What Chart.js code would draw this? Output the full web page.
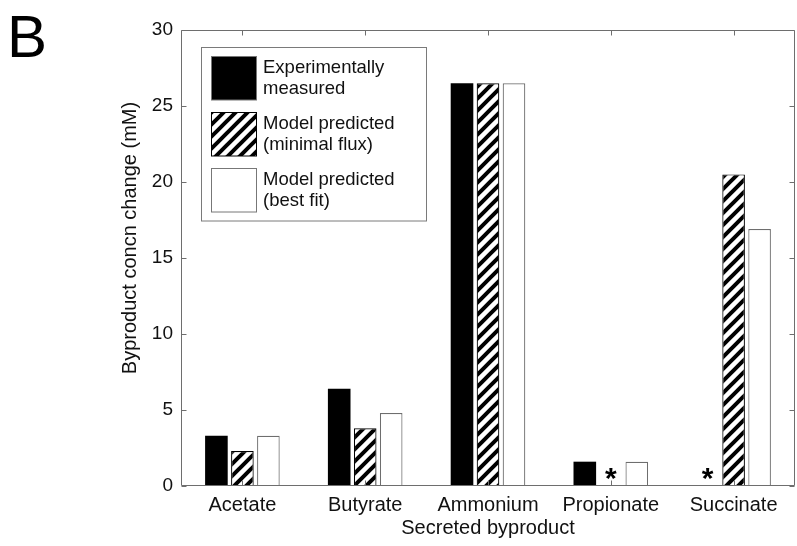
<!DOCTYPE html>
<html><head><meta charset="utf-8">
<script src="https://cdn.jsdelivr.net/npm/chart.js@4"></script>
<style>html,body{margin:0;padding:0;background:#fff;overflow:hidden}canvas{display:block}</style>
</head><body>
<canvas id="c" width="797" height="546"></canvas>
<script>
const categories = ['Acetate', 'Butyrate', 'Ammonium', 'Propionate', 'Succinate'];
const measured = [3.3, 6.4, 26.5, 1.6, 0];
const minimalFlux = [2.3, 3.8, 26.5, 0, 20.5];
const bestFit = [3.3, 4.8, 26.5, 1.6, 16.9];
const seriesLabels = [['Experimentally', 'measured'], ['Model predicted', '(minimal flux)'], ['Model predicted', '(best fit)']];
const yTicks = [0, 5, 10, 15, 20, 25, 30];
const panelLabel = 'B';
const xTitle = 'Secreted byproduct';
const yTitle = 'Byproduct concn change (mM)';

const FONT = "'Liberation Sans', Arial, Helvetica, sans-serif";
const canvas = document.getElementById('c');
const mainCtx = canvas.getContext('2d');

function makeHatch() {
  const s = 12;
  const c = document.createElement('canvas');
  c.width = s; c.height = s;
  const g = c.getContext('2d');
  g.fillStyle = '#fff'; g.fillRect(0, 0, s, s);
  g.strokeStyle = '#000'; g.lineWidth = 4;
  g.beginPath();
  g.moveTo(-3, s + 3); g.lineTo(s + 3, -3);
  g.moveTo(-3, 3); g.lineTo(3, -3);
  g.moveTo(s - 3, s + 3); g.lineTo(s + 3, s - 3);
  g.stroke();
  return mainCtx.createPattern(c, 'repeat');
}
const hatch = makeHatch();

const fills = ['#000000', hatch, '#ffffff'];
const borders = ['#000000', '#000000', '#6e6e6e'];
const seriesData = [measured, minimalFlux, bestFit];

const decor = {
  id: 'decor',
  beforeDraw(chart) {
    const ctx = chart.ctx;
    ctx.save();
    ctx.fillStyle = '#fff';
    ctx.fillRect(0, 0, chart.width, chart.height);
    ctx.restore();
  },
  afterDatasetsDraw(chart) {
    const { ctx, chartArea: a, scales: { x, y } } = chart;
    ctx.save();
    const L = Math.round(a.left) + 0.5, R = Math.round(a.right) - 0.5;
    const T = Math.round(a.top) + 0.5, B = Math.round(a.bottom) - 0.5;
    ctx.strokeStyle = '#6e6e6e';
    ctx.lineWidth = 1;
    ctx.beginPath();
    ctx.moveTo(L, T); ctx.lineTo(R, T); ctx.lineTo(R, B); ctx.lineTo(L, B); ctx.closePath();
    ctx.stroke();
    ctx.beginPath();
    yTicks.forEach(v => {
      const py = Math.round(y.getPixelForValue(v)) + 0.5;
      ctx.moveTo(L, py); ctx.lineTo(L + 5, py);
      ctx.moveTo(R, py); ctx.lineTo(R - 5, py);
    });
    categories.forEach((c, i) => {
      const px = Math.round(x.getPixelForValue(i)) + 0.5;
      ctx.moveTo(px, T); ctx.lineTo(px, T + 5);
      ctx.moveTo(px, B); ctx.lineTo(px, B - 5);
    });
    ctx.stroke();

    ctx.fillStyle = '#000';
    ctx.font = 'bold 30px ' + FONT;
    ctx.textAlign = 'center';
    ctx.textBaseline = 'alphabetic';
    chart.data.datasets.forEach((ds, d) => {
      const meta = chart.getDatasetMeta(d);
      ds.data.forEach((v, i) => {
        if (v === 0) {
          ctx.fillText('*', meta.data[i].x, y.getPixelForValue(0) + 2);
        }
      });
    });

    const lx = 201.5, ly = 47.5, lw = 225, lh = 173.5;
    ctx.fillStyle = '#fff';
    ctx.fillRect(lx, ly, lw, lh);
    ctx.strokeStyle = '#7a7a7a';
    ctx.strokeRect(lx, ly, lw, lh);
    const swY = [56.5, 112.5, 168.5];
    seriesLabels.forEach((lines, k) => {
      const sx = 211.5, sy = swY[k], sw = 45, sh = 43.5;
      ctx.fillStyle = fills[k];
      ctx.fillRect(sx, sy, sw, sh);
      ctx.strokeStyle = k === 1 ? '#000' : '#777';
      ctx.lineWidth = 1;
      ctx.strokeRect(sx, sy, sw, sh);
      ctx.fillStyle = '#111';
      ctx.font = '18.5px ' + FONT;
      ctx.textAlign = 'left';
      ctx.textBaseline = 'middle';
      const cy = sy + sh / 2;
      ctx.fillText(lines[0], 263, cy - 10.5);
      ctx.fillText(lines[1], 263, cy + 10.5);
    });

    ctx.fillStyle = '#000';
    ctx.font = '60px ' + FONT;
    ctx.textAlign = 'left';
    ctx.textBaseline = 'alphabetic';
    ctx.fillText(panelLabel, 7, 56.5);

    ctx.save();
    ctx.translate(130, 238);
    ctx.rotate(-Math.PI / 2);
    ctx.font = '20px ' + FONT;
    ctx.fillStyle = '#111';
    ctx.textAlign = 'center';
    ctx.textBaseline = 'middle';
    ctx.fillText(yTitle, 0, 0);
    ctx.restore();

    ctx.restore();
  }
};

new Chart(canvas, {
  type: 'bar',
  data: {
    labels: categories,
    datasets: seriesData.map((arr, k) => ({
      label: seriesLabels[k].join(' '),
      data: arr,
      backgroundColor: fills[k],
      borderColor: borders[k],
      borderWidth: k === 0 ? 0 : 1.2,
      categoryPercentage: 0.635,
      barPercentage: 0.87
    }))
  },
  options: {
    responsive: false,
    animation: false,
    devicePixelRatio: 1,
    layout: { padding: { top: 30, right: 2, left: 0, bottom: 0 } },
    plugins: { legend: { display: false }, tooltip: { enabled: false }, title: { display: false } },
    scales: {
      x: {
        type: 'category',
        offset: true,
        grid: { display: false, drawTicks: false },
        border: { display: false },
        ticks: { color: '#111', font: { size: 20, family: FONT }, padding: 7, maxRotation: 0, autoSkip: false },
        title: { display: true, text: xTitle, color: '#111', font: { size: 20, family: FONT }, padding: { top: 0, bottom: 6 } },
        afterFit(s) { s.height = 60; }
      },
      y: {
        min: 0, max: 30,
        grid: { display: false, drawTicks: false },
        border: { display: false },
        ticks: { stepSize: 5, color: '#111', font: { size: 19, family: FONT }, padding: 8 },
        afterBuildTicks(s) { s.ticks = yTicks.map(v => ({ value: v })); },
        afterFit(s) { s.width = 181; }
      }
    }
  },
  plugins: [decor]
});
</script>
</body></html>
